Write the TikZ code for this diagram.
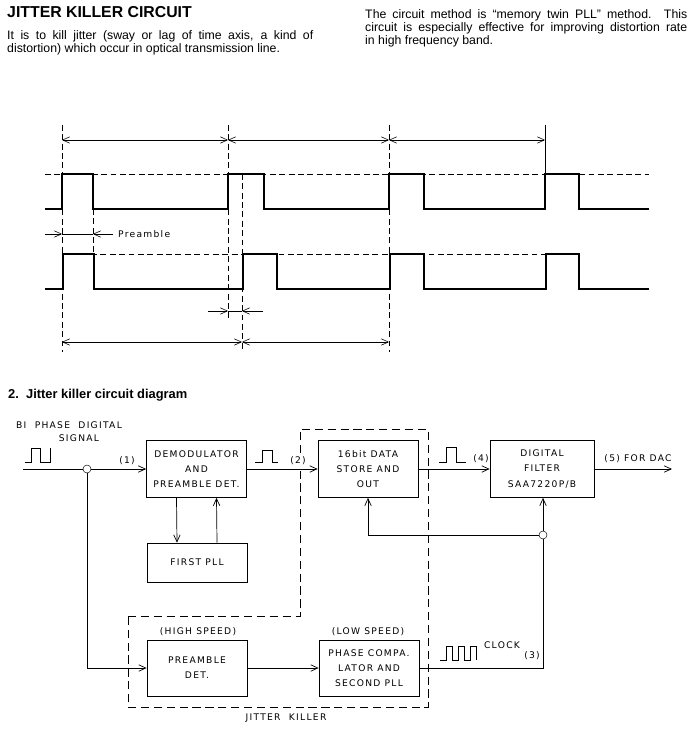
\documentclass[tikz,border=0pt]{standalone}
\usepackage{fontspec}
\setmainfont{Liberation Sans}
\newfontfamily\lettering[LetterSpace=14]{DejaVu Sans}
\usetikzlibrary{arrows.meta}

\begin{document}
\begin{tikzpicture}[x=0.03cm,y=-0.03cm,>={Straight Barb[length=6pt,width=5.5pt]},
	blk/.style={draw, semithick, minimum width=3cm, minimum height=1.71cm, align=center, inner sep=1pt, font=\lettering\fontsize{7.8}{13}\selectfont},
	lbl/.style={inner sep=0pt, font=\lettering\fontsize{7.8}{9}\selectfont},
	txt/.style={anchor=base west, inner sep=0pt, font=\fontsize{10.5}{12}\selectfont},
	junction/.style={circle, draw, fill=white, inner sep=0pt, minimum size=0.24cm},
	wave/.style={line width=0.9pt},
	dim/.style={line width=0.5pt},
	guide/.style={line width=0.5pt, dash pattern=on 5pt off 3pt},
	killer/.style={line width=0.6pt, dash pattern=on 7pt off 4pt}]
\useasboundingbox (0,0) rectangle (698,734);

%heading texts
\node[anchor=base west, inner sep=0pt, font=\bfseries\fontsize{13.5}{15}\selectfont] (title) at (7,18) {JITTER KILLER CIRCUIT};
\node[txt] (intro1) at (7,40) {\makebox[9.18cm][s]{It is to kill jitter (sway or lag of time axis, a kind of}};
\node[txt] (intro2) at (7,53) {distortion) which occur in optical transmission line.};
\node[txt] (method1) at (365,19) {\makebox[9.66cm][s]{The circuit method is ``memory twin PLL'' method. This}};
\node[txt] (method2) at (365,32) {\makebox[9.66cm][s]{circuit is especially effective for improving distortion rate}};
\node[txt] (method3) at (365,45) {in high frequency band.};

%timing chart
\draw[guide] (45,174) -- (649,174);
\draw[guide] (63,254) -- (579,254);
\draw[wave] (45,209) \foreach \a/\b in {62/93,228/264,389/424,545/579}{ -- (\a,209) -- (\a,174) -- (\b,174) -- (\b,209)} -- (649,209);
\draw[wave] (45,289) \foreach \a/\b in {63/94,243/277,390/424,546/579}{ -- (\a,289) -- (\a,254) -- (\b,254) -- (\b,289)} -- (649,289);
\draw[guide] (62,125) -- (62,352);
\draw[guide] (228,125) -- (228,318);
\draw[guide] (242,174) -- (242,352);
\draw[guide] (389,125) -- (389,352);
\draw[dim] (545,125) -- (545,174);
\draw[guide] (93,209) -- (93,254);
\foreach \a/\b in {62/228,228/389,389/545}{
	\draw[dim,<->] (\a,140) -- (\b,140);
	}
\foreach \a/\b in {62/242,242/389}{
	\draw[dim,<->] (\a,342) -- (\b,342);
	}
%preamble width
\draw[dim,->] (45,234) -- (62,234);
\draw[dim] (62,234) -- (93,234);
\draw[dim,->] (113,234) -- (93,234);
\node[lbl, anchor=west] (preamble) at (118,234) {Preamble};
%jitter
\draw[dim,->] (208,311) -- (228,311);
\draw[dim] (228,311) -- (242,311);
\draw[dim,->] (263,311) -- (242,311);

%block diagram
\node[anchor=base west, inner sep=0pt, font=\bfseries\fontsize{11}{13}\selectfont] (subtitle) at (8,398) {2.\ \ Jitter killer circuit diagram};

\node[blk] (demod) at (196.5,469) {DEMODULATOR\\AND\\PREAMBLE DET.};
\node[blk] (store) at (368,469) {16bit DATA\\STORE AND\\OUT};
\node[blk, minimum width=3.12cm] (filter) at (542,469) {DIGITAL\\FILTER\\SAA7220P/B};
\node[blk, minimum height=1.17cm] (pll1) at (197,562.5) {FIRST PLL};
\node[blk, minimum height=1.68cm] (pre) at (197,668) {PREAMBLE\\DET.};
\node[blk, minimum height=1.68cm] (phase) at (369,668) {PHASE COMPA.\\LATOR AND\\SECOND PLL};

\node[junction] (split) at (87,469) {};
\node[junction] (tap) at (543,535) {};
\coordinate (in) at (23,469);
\coordinate (dac) at (672,469);

\draw[semithick] (in) -- (split);
\draw[semithick,->] (split) -- (demod);
\draw[semithick,->] (demod) -- (store);
\draw[semithick,->] (store) -- (filter);
\draw[semithick,->] (filter) -- (dac);
\draw[semithick,->] ([xshift=-0.6cm]demod.south) -- ([xshift=-0.6cm]pll1.north);
\draw[semithick,->] ([xshift=0.6cm]pll1.north) -- ([xshift=0.6cm]demod.south);
\draw[semithick,->] (split) |- (pre);
\draw[semithick,->] (pre) -- (phase);
\draw[semithick] (phase) -| (tap);
\draw[semithick,->] (tap) -- (tap |- filter.south);
\draw[semithick,->] (tap) -| (store);

%jitter killer area
\draw[killer] (128,616) -- (300,616) -- (300,429) -- (428,429) -- (428,707) -- (128,707) -- cycle;

%labels
\node[lbl] (bi) at (69,425) {BI\ \ PHASE\ \ DIGITAL};
\node[lbl] (signal) at (79,438) {SIGNAL};
\node[lbl] (one) at (127,461) {(1)};
\node[lbl, fill=white, inner sep=1pt] (two) at (298,461) {(2)};
\node[lbl] (four) at (481,459) {(4)};
\node[lbl] (five) at (638,459) {(5)\ FOR\ DAC};
\node[lbl] (clock) at (502,645) {CLOCK};
\node[lbl] (three) at (532,656) {(3)};
\node[lbl] (high) at (198,632) {(HIGH SPEED)};
\node[lbl] (low) at (368,632) {(LOW SPEED)};
\node[lbl] (jk) at (286,718) {JITTER\ \ KILLER};

%signal shapes
\draw[semithick] (25,462) -- (31,462) -- (31,448) -- (40,448) -- (40,462) -- (50,462) -- (50,448);
\draw[semithick] (255,462) -- (262,462) -- (262,450) -- (272,450) -- (272,462) -- (278,462);
\draw[semithick] (439,462) -- (446,462) -- (446,447) -- (456,447) -- (456,462) -- (466,462);
\draw[semithick] (440,660) \foreach \a in {446,458,470}{ -- (\a,660) -- (\a,646) -- (\a+6,646) -- (\a+6,660)};
\end{tikzpicture}
\end{document}
